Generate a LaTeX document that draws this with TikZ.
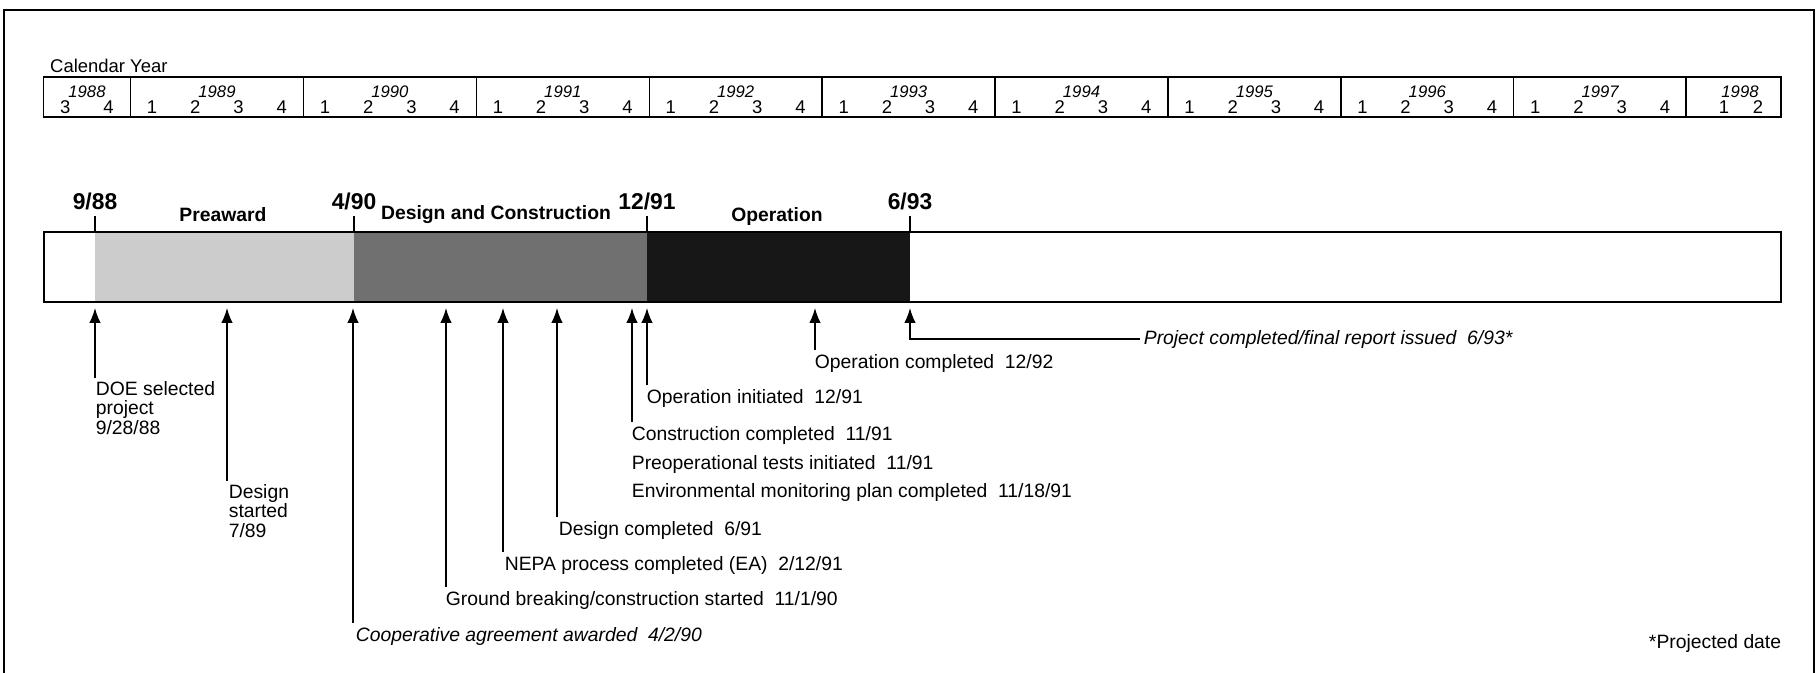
\documentclass[tikz,border=0pt]{standalone}
\usepackage{fontspec}
\setmainfont{Liberation Sans}
\usetikzlibrary{arrows.meta}

\newcommand{\lblfont}{\fontsize{11}{10.9}\selectfont}

\begin{document}
\begin{tikzpicture}[x=0.02cm, y=-0.02cm, >={Latex[length=8.5pt,width=6.5pt]},
  lbl/.style={font=\lblfont, anchor=west, inner sep=2pt, align=left},
  conn/.style={->, line width=0.8pt},
  yr/.style={font=\itshape\fontsize{9.5}{9.5}\selectfont},
  qtr/.style={font=\fontsize{10.5}{10.5}\selectfont},
  datelbl/.style={font=\bfseries\fontsize{13}{13}\selectfont, inner sep=3pt},
  phase/.style={font=\bfseries\fontsize{11}{11}\selectfont}]

  \useasboundingbox (0,0) rectangle (1820,673);

  % Frame, open at the bottom
  \draw[line width=1.4pt] (4,673) -- (4,10) -- (1814,10) -- (1814,673);

  % Calendar
  \node[anchor=west, font=\fontsize{10.5}{10.5}\selectfont] (cal) at (44,66) {Calendar Year};
  \draw[line width=0.8pt] (43.6,77) rectangle (1781,117);
  \node[yr] (y1988) at (87,92) {1988};
  \node[qtr] (q1988-3) at (65.2,107) {3};
  \node[qtr] (q1988-4) at (108.4,107) {4};
  \foreach \yr [count=\i from 0] in {1989,...,1997} {
    \draw[line width=0.8pt] (130.5+172.9*\i,77) -- (130.5+172.9*\i,117);
    \node[yr] (y\yr) at (217+172.9*\i,92) {\yr};
    \foreach \q in {1,...,4}
      \node[qtr] (q\yr-\q) at (130.5+172.9*\i+43.2*\q-21.6,107) {\q};
  }
  \draw[line width=0.8pt] (1686,77) -- (1686,117);
  \node[yr] (y1998) at (1740,92) {1998};
  \node[qtr] (q1998-1) at (1724,107) {1};
  \node[qtr] (q1998-2) at (1758,107) {2};

  % Phase boundaries
  \coordinate (D88) at (95,232);
  \coordinate (D90) at (354,232);
  \coordinate (D91) at (647,232);
  \coordinate (D93) at (910,232);

  % Bar
  \fill[black!20] (D88) rectangle (354,302);
  \fill[black!56] (D90) rectangle (647,302);
  \fill[black!91] (D91) rectangle (910,302);
  \draw[line width=1.6pt] (44,232) rectangle (1781,302);

  % Dates over the bar
  \draw[line width=0.8pt] (D88) -- ++(0,-16) node[datelbl, above] (L88) {9/88};
  \draw[line width=0.8pt] (D90) -- ++(0,-16) node[datelbl, above] (L90) {4/90};
  \draw[line width=0.8pt] (D91) -- ++(0,-16) node[datelbl, above] (L91) {12/91};
  \draw[line width=0.8pt] (D93) -- ++(0,-16) node[datelbl, above] (L93) {6/93};

  % Phases
  \node[phase] (PA) at (223,215) {Preaward};
  \node[phase] (DandC) at (496,215) {Design and Construction};
  \node[phase] (OP) at (777,216) {Operation};

  % Arrow tips under the bar
  \coordinate (tDOE) at (95,308);
  \coordinate (tDS) at (227,308);
  \coordinate (tCA) at (353,308);
  \coordinate (tGB) at (446,308);
  \coordinate (tNP) at (503,308);
  \coordinate (tDC) at (557,308);
  \coordinate (tCC) at (632,308);
  \coordinate (tOI) at (647,308);
  \coordinate (tOC) at (815,308);
  \coordinate (tPC) at (910,308);

  % Milestones
  \node[lbl] (DOE) at (92,408) {DOE selected\\project\\9/28/88};
  \node[lbl] (DS) at (225,511) {Design\\started\\7/89};
  \node[lbl, font=\lblfont\itshape] (CA) at (352,636) {Cooperative agreement awarded\ \ 4/2/90};
  \node[lbl] (GB) at (442,600) {Ground breaking/construction started\ \ 11/1/90};
  \node[lbl] (NP) at (501,565) {NEPA process completed (EA)\ \ 2/12/91};
  \node[lbl] (DC) at (555,530) {Design completed\ \ 6/91};
  \node[lbl] (EM) at (628,492) {Environmental monitoring plan completed\ \ 11/18/91};
  \node[lbl] (PT) at (628,464) {Preoperational tests initiated\ \ 11/91};
  \node[lbl] (CC) at (628,435) {Construction completed\ \ 11/91};
  \node[lbl] (OI) at (643,398) {Operation initiated\ \ 12/91};
  \node[lbl] (OC) at (811,363) {Operation completed\ \ 12/92};
  \node[lbl, font=\lblfont\itshape] (PC) at (1140,339) {Project completed/final report issued\ \ 6/93*};
  \node[lbl, anchor=east] (PD) at (1785,643) {*Projected date};

  \draw[conn] (DOE.north -| tDOE) -- (tDOE);
  \draw[conn] (DS.north -| tDS) -- (tDS);
  \draw[conn] (CA.north -| tCA) -- (tCA);
  \draw[conn] (GB.north -| tGB) -- (tGB);
  \draw[conn] (NP.north -| tNP) -- (tNP);
  \draw[conn] (DC.north -| tDC) -- (tDC);
  \draw[conn] (CC.north -| tCC) -- (tCC);
  \draw[conn] (OI.north -| tOI) -- (tOI);
  \draw[conn] (OC.north -| tOC) -- (tOC);
  \draw[conn] (PC.west) -| (tPC);
\end{tikzpicture}
\end{document}
